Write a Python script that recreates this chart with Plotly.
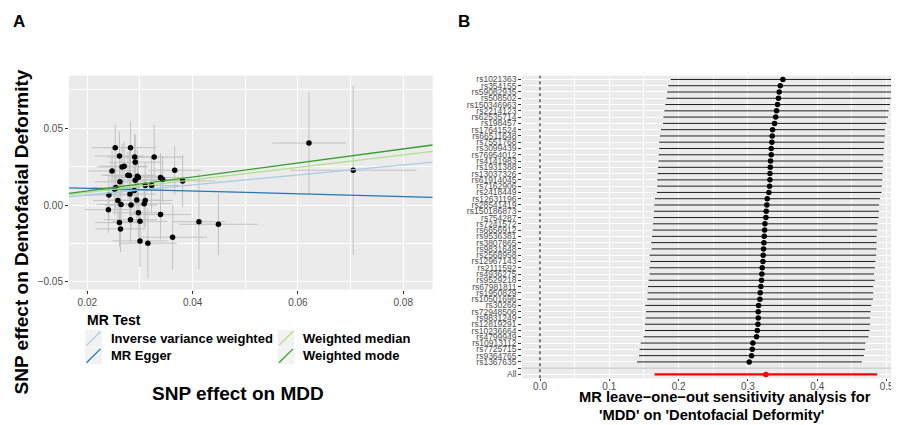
import plotly.graph_objects as go

# ---------------- Panel A data (scatter) ----------------
snp_exp = [0.0253, 0.0282, 0.0261, 0.0290, 0.0327, 0.0291, 0.0266, 0.0270, 0.0247, 0.0366,
           0.0705, 0.0621, 0.0277, 0.0295, 0.0297, 0.0291, 0.0339, 0.0343, 0.0381, 0.0262,
           0.0310, 0.0322, 0.0254, 0.0252, 0.0289, 0.0281, 0.0241, 0.0258, 0.0294, 0.0310,
           0.0264, 0.0283, 0.0308, 0.0240, 0.0297, 0.0339, 0.0282, 0.0300, 0.0412, 0.0261,
           0.0449, 0.0263, 0.0362, 0.0300, 0.0315, 0.0280]
snp_out = [0.0373, 0.0373, 0.0319, 0.0312, 0.0312, 0.0278, 0.0248, 0.0252, 0.0222, 0.0226,
           0.0226, 0.0403, 0.0194, 0.0187, 0.0179, 0.0162, 0.0179, 0.0166, 0.0157, 0.0151,
           0.0127, 0.0127, 0.0114, 0.0103, 0.0095, 0.0071, 0.0065, 0.0030, 0.0032, 0.0030,
           0.0004, 0.0000, 0.0009, -0.0030, -0.0050, -0.0062, -0.0095, -0.0106, -0.0108, -0.0114,
           -0.0125, -0.0155, -0.0209, -0.0233, -0.0248, 0.0192]
se_exp = [0.0045, 0.0050, 0.0047, 0.0052, 0.0055, 0.0050, 0.0048, 0.0046, 0.0045, 0.0050,
          0.0120, 0.0070, 0.0050, 0.0052, 0.0049, 0.0047, 0.0055, 0.0060, 0.0062, 0.0048,
          0.0050, 0.0052, 0.0046, 0.0050, 0.0052, 0.0048, 0.0045, 0.0047, 0.0050, 0.0052,
          0.0046, 0.0050, 0.0052, 0.0045, 0.0050, 0.0058, 0.0050, 0.0052, 0.0050, 0.0047,
          0.0075, 0.0048, 0.0065, 0.0052, 0.0055, 0.0050]
se_out = [0.015, 0.017, 0.016, 0.015, 0.021, 0.018, 0.015, 0.016, 0.014, 0.016,
          0.055, 0.033, 0.015, 0.017, 0.014, 0.016, 0.016, 0.015, 0.017, 0.016,
          0.015, 0.018, 0.015, 0.017, 0.016, 0.015, 0.016, 0.016, 0.015, 0.017,
          0.015, 0.016, 0.016, 0.015, 0.016, 0.016, 0.015, 0.013, 0.031, 0.016,
          0.020, 0.015, 0.021, 0.017, 0.023, 0.016]

methods = ["Inverse variance weighted", "MR Egger", "Weighted median", "Weighted mode"]
method_a = [0.0, 0.0127, 0.0, 0.0]
method_b = [0.326, -0.0897, 0.408, 0.456]
method_colors = ["#a6cee3", "#1f78b4", "#b2df8a", "#33a02c"]

# ---------------- Panel B data (leave-one-out) ----------------
loo_snps = ["rs1021363", "rs354155", "rs59082935", "rs508502", "rs150346963", "rs2214123",
            "rs62535714", "rs198457", "rs17641524", "rs66511648", "rs7551768", "rs3099439",
            "rs76954012", "rs4141983", "rs1931388", "rs13037326", "rs61914045", "rs7162906",
            "rs2418449", "rs12631196", "rs28541419", "rs150186873", "rs754287", "rs7241572",
            "rs6656912", "rs9536381", "rs3807865", "rs9831648", "rs2568958", "rs12967143",
            "rs2111592", "rs4936275", "rs9529218", "rs67981811", "rs1950829", "rs10501696",
            "rs30266", "rs72948506", "rs9831249", "rs12819291", "rs10236664", "rs4799949",
            "rs10913112", "rs7725715", "rs9364765", "rs1367635"]
loo_b = [0.3504, 0.3466, 0.3451, 0.3440, 0.3427, 0.3413, 0.3400, 0.3384, 0.3355, 0.3350,
         0.3345, 0.3336, 0.3336, 0.3326, 0.3322, 0.3317, 0.3317, 0.3312, 0.3302, 0.3278,
         0.3273, 0.3264, 0.3259, 0.3245, 0.3240, 0.3235, 0.3230, 0.3225, 0.3220, 0.3216,
         0.3206, 0.3201, 0.3196, 0.3187, 0.3177, 0.3172, 0.3153, 0.3148, 0.3148, 0.3144,
         0.3134, 0.3124, 0.3071, 0.3062, 0.3052, 0.3018]
loo_lo = [0.1884, 0.1850, 0.1836, 0.1826, 0.1807, 0.1793, 0.1780, 0.1774, 0.1745, 0.1730,
          0.1720, 0.1720, 0.1710, 0.1710, 0.1702, 0.1697, 0.1692, 0.1692, 0.1687, 0.1658,
          0.1649, 0.1644, 0.1639, 0.1630, 0.1625, 0.1615, 0.1605, 0.1610, 0.1580, 0.1590,
          0.1580, 0.1580, 0.1567, 0.1557, 0.1553, 0.1548, 0.1520, 0.1529, 0.1524, 0.1514,
          0.1514, 0.1495, 0.1452, 0.1437, 0.1428, 0.1399]
loo_hi = [0.5130, 0.5105, 0.5076, 0.5060, 0.5050, 0.5030, 0.5018, 0.4999, 0.4975, 0.4975,
          0.4966, 0.4961, 0.4956, 0.4946, 0.4946, 0.4941, 0.4937, 0.4932, 0.4927, 0.4903,
          0.4893, 0.4889, 0.4884, 0.4870, 0.4865, 0.4855, 0.4855, 0.4855, 0.4850, 0.4840,
          0.4830, 0.4820, 0.4830, 0.4807, 0.4807, 0.4802, 0.4778, 0.4768, 0.4763, 0.4763,
          0.4754, 0.4740, 0.4696, 0.4687, 0.4672, 0.4643]
all_label = "All"
all_b = 0.3259
all_lo = 0.1653
all_hi = 0.4864

# ---------------- layout helpers ----------------
# The page body has an 8px default margin; size the figure so that it fills the
# 899x425 window exactly and map window pixels to paper coordinates.
PAGE_W, PAGE_H = 899, 425
OFF = 8
W, H = PAGE_W - OFF, PAGE_H - OFF
FONT = "Liberation Sans, Arial, sans-serif"
TICK_COLOR = "#4d4d4d"
PANEL_BG = "#ebebeb"


def px(x):
    return (x - OFF) / W


def py(y):
    return 1 - (y - OFF) / H


xa_range = [0.01652, 0.0856]
ya_range = [-0.055, 0.0841]
xb_range = [-0.0264, 0.515]

fig = go.Figure()

# Panel A: scatter with error bars
fig.add_trace(go.Scatter(
    x=snp_exp, y=snp_out, mode="markers", xaxis="x", yaxis="y", showlegend=False,
    marker=dict(color="black", size=5.5),
    error_x=dict(type="data", array=se_exp, color="#c2c2c2", thickness=1, width=0),
    error_y=dict(type="data", array=se_out, color="#c2c2c2", thickness=1, width=0),
    hoverinfo="skip"))

for name, a, b, col in zip(methods, method_a, method_b, method_colors):
    fig.add_trace(go.Scatter(
        x=xa_range, y=[a + b * v for v in xa_range], mode="lines", name=name,
        xaxis="x", yaxis="y", showlegend=False, line=dict(color=col, width=1.3)))

# Panel B: leave-one-out forest plot
blank = " "
cats = [all_label, blank] + loo_snps[::-1]
fig.add_trace(go.Scatter(
    x=loo_b, y=loo_snps, mode="markers", xaxis="x2", yaxis="y2", showlegend=False,
    marker=dict(color="black", size=5.5),
    error_x=dict(type="data", symmetric=False,
                 array=[h - b for h, b in zip(loo_hi, loo_b)],
                 arrayminus=[b - l for b, l in zip(loo_b, loo_lo)],
                 color="black", thickness=0.9, width=0)))
fig.add_trace(go.Scatter(
    x=[all_b], y=[all_label], mode="markers", xaxis="x2", yaxis="y2", showlegend=False,
    marker=dict(color="red", size=5.5),
    error_x=dict(type="data", symmetric=False, array=[all_hi - all_b],
                 arrayminus=[all_b - all_lo], color="red", thickness=2.2, width=0)))

shapes = [
    # separator line at blank row
    dict(type="line", xref="x2 domain", yref="y2", x0=0, x1=1,
         y0=cats.index(blank), y1=cats.index(blank), line=dict(color="#bdbdbd", width=1)),
    # dotted null line
    dict(type="line", xref="x2", yref="y2 domain", x0=0, x1=0, y0=0, y1=1,
         line=dict(color="black", width=1, dash="dot")),
]

# Manual legend for panel A
annotations = []
legend_rows = [339, 356.5]
legend_cols = [(85, 108.5), (277.5, 300.5)]
for i, (name, col) in enumerate(zip(methods, method_colors)):
    c = i // 2
    r = i % 2
    kx, tx = legend_cols[c]
    cy = legend_rows[r]
    shapes.append(dict(type="rect", xref="paper", yref="paper",
                       x0=px(kx), x1=px(kx + 17), y0=py(cy + 8.5), y1=py(cy - 8.5),
                       fillcolor="#f2f2f2", line=dict(width=0), layer="below"))
    shapes.append(dict(type="line", xref="paper", yref="paper",
                       x0=px(kx + 1.5), x1=px(kx + 15.5), y0=py(cy + 7), y1=py(cy - 7),
                       line=dict(color=col, width=1.3)))
    annotations.append(dict(text=name, x=px(tx), y=py(cy), xref="paper", yref="paper",
                            xanchor="left", yanchor="middle", showarrow=False,
                            font=dict(family=FONT, size=13, color="black", weight="bold")))

annotations += [
    dict(text="MR Test", x=px(85), y=py(320.5), xref="paper", yref="paper",
         xanchor="left", yanchor="middle", showarrow=False,
         font=dict(family=FONT, size=14, color="black", weight="bold")),
    dict(text="SNP effect on MDD", x=px(237.5), y=py(394), xref="paper", yref="paper",
         xanchor="center", yanchor="middle", showarrow=False,
         font=dict(family=FONT, size=19, color="black", weight="bold")),
    dict(text="SNP effect on Dentofacial Deformity", x=px(21), y=py(232.5),
         xref="paper", yref="paper", xanchor="center", yanchor="middle", textangle=-90,
         showarrow=False, font=dict(family=FONT, size=19, color="black", weight="bold")),
    dict(text="MR leave\u2212one\u2212out sensitivity analysis for", x=px(725), y=py(398),
         xref="paper", yref="paper", xanchor="center", yanchor="middle", showarrow=False,
         font=dict(family=FONT, size=14.7, color="black", weight="bold")),
    dict(text="'MDD' on 'Dentofacial Deformity'", x=px(711), y=py(416),
         xref="paper", yref="paper", xanchor="center", yanchor="middle", showarrow=False,
         font=dict(family=FONT, size=14.7, color="black", weight="bold")),
    dict(text="A", x=px(19), y=py(21), xref="paper", yref="paper",
         xanchor="center", yanchor="middle", showarrow=False,
         font=dict(family=FONT, size=17, color="black", weight="bold")),
    dict(text="B", x=px(464), y=py(21), xref="paper", yref="paper",
         xanchor="center", yanchor="middle", showarrow=False,
         font=dict(family=FONT, size=17, color="black", weight="bold")),
]

tickfont = dict(family=FONT, size=10, color=TICK_COLOR)
axis_common = dict(showline=False, zeroline=False, ticks="outside",
                   tickcolor="#333333", tickwidth=1, gridcolor="white", gridwidth=1.1,
                   tickfont=tickfont)

fig.update_layout(
    width=W, height=H, margin=dict(l=0, r=0, t=0, b=0),
    paper_bgcolor="white", plot_bgcolor=PANEL_BG,
    font=dict(family=FONT),
    showlegend=False,
    xaxis=dict(domain=[px(69), px(432.7)], anchor="y", range=xa_range, ticklen=3,
               tickvals=[0.02, 0.04, 0.06, 0.08], ticktext=["0.02", "0.04", "0.06", "0.08"],
               minor=dict(tickvals=[0.03, 0.05, 0.07], showgrid=True, gridcolor="white",
                          gridwidth=0.5, ticks=""),
               **axis_common),
    yaxis=dict(domain=[py(290), py(75)], anchor="x", range=ya_range, ticklen=3,
               tickvals=[-0.05, 0.0, 0.05], ticktext=["\u22120.05", "0.00", "0.05"],
               minor=dict(tickvals=[-0.025, 0.025, 0.075], showgrid=True, gridcolor="white",
                          gridwidth=0.5, ticks=""),
               **axis_common),
    xaxis2=dict(domain=[px(521.7), px(897)], anchor="y2", range=xb_range, ticklen=2,
                tickvals=[0.0, 0.1, 0.2, 0.3, 0.4, 0.5],
                ticktext=["0.0", "0.1", "0.2", "0.3", "0.4", "0.5"],
                minor=dict(tickvals=[0.05, 0.15, 0.25, 0.35, 0.45], showgrid=True,
                           gridcolor="white", gridwidth=0.5, ticks=""),
                ticklabelstandoff=-3,
                **axis_common),
    yaxis2=dict(domain=[py(379), py(75)], anchor="x2", type="category",
                categoryorder="array", categoryarray=cats,
                range=[-0.6, len(cats) - 0.4],
                tickmode="array", tickvals=cats, ticktext=cats,
                showline=False, zeroline=False, ticks="outside", ticklen=2.5,
                tickcolor="#333333", tickwidth=1, gridcolor="white", gridwidth=1.1,
                tickfont=dict(family=FONT, size=8.5, color=TICK_COLOR)),
    shapes=shapes,
    annotations=annotations,
)

fig.write_html("out.html")
